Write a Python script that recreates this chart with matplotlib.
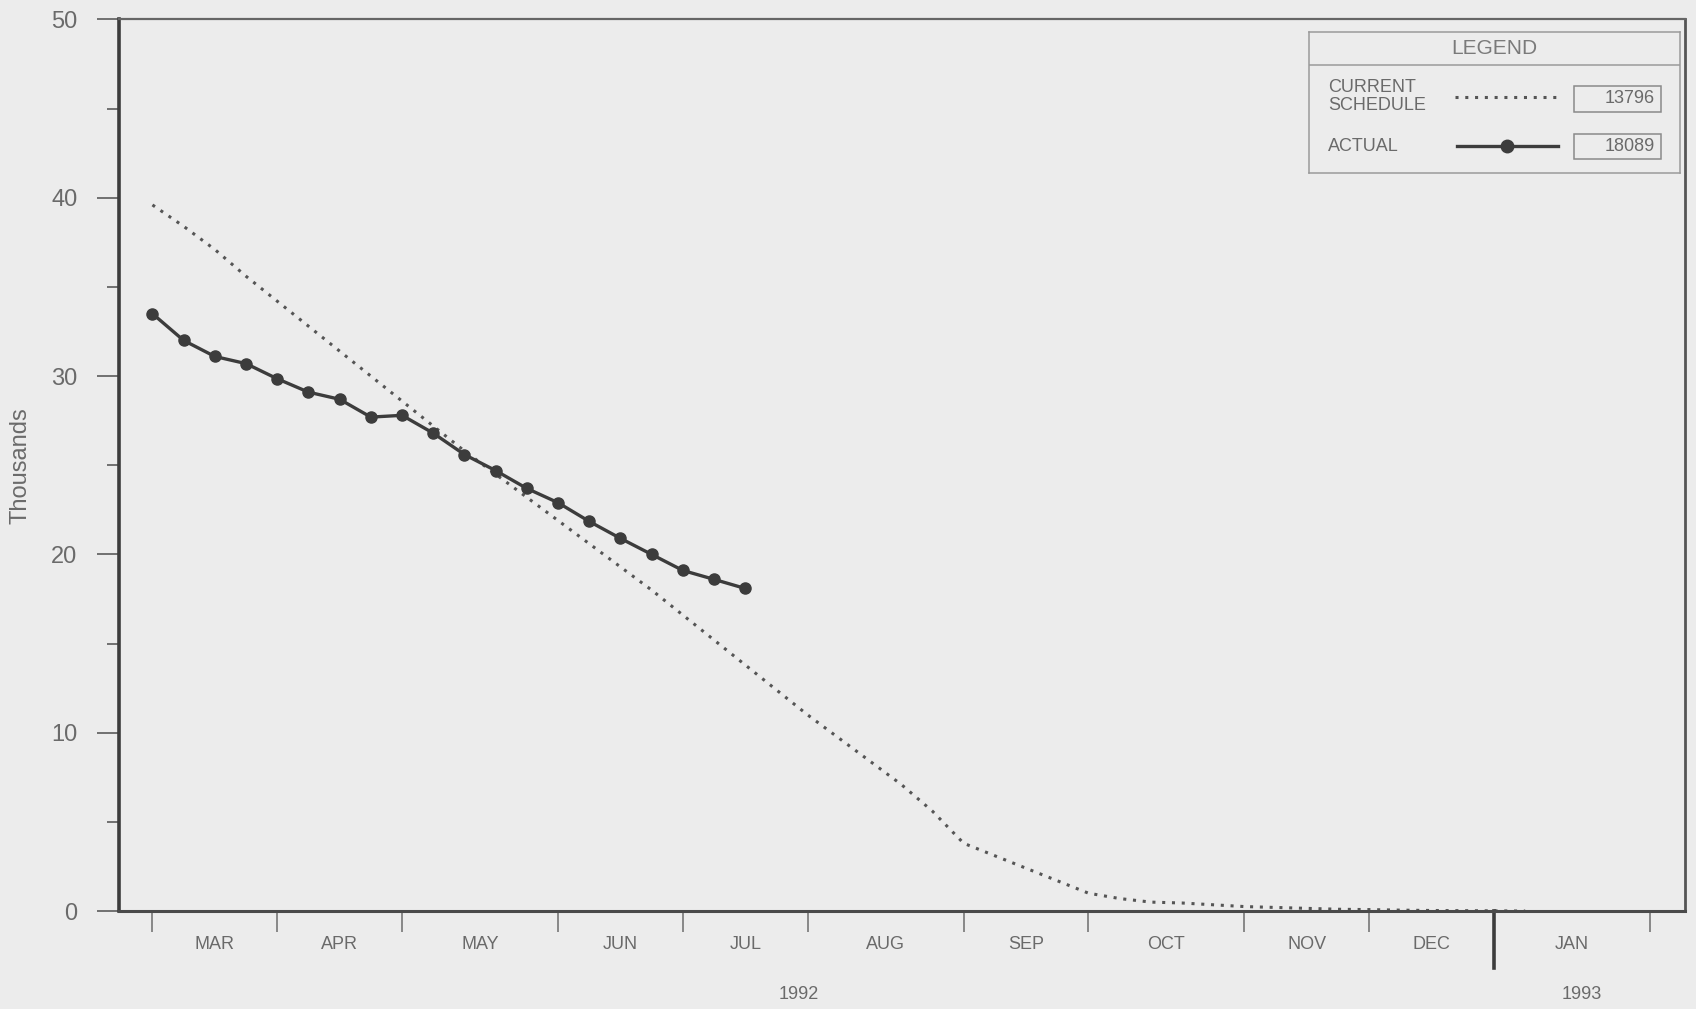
#!/usr/bin/env python3
"""
Weekly backlog burn-down (thousands): current schedule vs actual, Mar 1992 - Jan 1993.
x axis is in weeks from the first week of March; month widths are 4 or 5 weeks.
"""
import numpy as np
import matplotlib
matplotlib.use("Agg")
import matplotlib.pyplot as plt
from matplotlib.transforms import blended_transform_factory

# --- data ---
months = ["MAR", "APR", "MAY", "JUN", "JUL", "AUG", "SEP", "OCT", "NOV", "DEC", "JAN"]
month_weeks = [4, 4, 5, 4, 4, 5, 4, 5, 4, 4, 5]
years = ["1992", "1993"]
year_pos = [20.7, 45.8]          # weeks, where the year captions sit

actual = [33.5, 32.0, 31.1, 30.7, 29.85, 29.1, 28.7, 27.7, 27.8, 26.8,
          25.6, 24.7, 23.7, 22.9, 21.85, 20.9, 20.0, 19.1, 18.6, 18.09]
schedule = [39.6, 38.4, 37.1, 35.6, 34.2, 32.8, 31.4, 30.0, 28.6, 27.2,
            25.8, 24.5, 23.2, 21.9, 20.6, 19.3, 18.0, 16.6, 15.2, 13.8,
            12.4, 11.0, 9.7, 8.4, 7.1, 5.6, 3.8, 3.1, 2.4, 1.7,
            1.0, 0.7, 0.5, 0.45, 0.35, 0.25, 0.2, 0.15, 0.1, 0.08,
            0.05, 0.03, 0.02, 0.01, 0.0]
legend_vals = ["13796", "18089"]

BG = "#ececec"
INK = "#3c3c3c"
TXT = "#6a6a6a"
FONT = "Liberation Sans"


def main():
    plt.rcParams["font.family"] = [FONT, "DejaVu Sans"]
    fig = plt.figure(figsize=(16.96, 10.09), dpi=100, facecolor=BG)
    ax = fig.add_axes([0.0702, 0.0971, 0.9233, 0.8836], facecolor=BG)

    bounds = np.concatenate([[0], np.cumsum(month_weeks)])
    mids = (bounds[:-1] + bounds[1:]) / 2.0
    year_split = bounds[months.index("JAN")]

    ax.plot(np.arange(len(schedule)), schedule, color="#555555", lw=2.2,
            ls=(0, (1, 2.2)), zorder=2)
    ax.plot(np.arange(len(actual)), actual, color=INK, lw=2.4, marker="o",
            ms=8, mfc=INK, mec=INK, zorder=3)

    ax.set_xlim(-1.07, 49.12)
    ax.set_ylim(0, 50)

    # y axis
    ax.set_yticks(np.arange(0, 51, 10))
    ax.set_yticks(np.arange(5, 50, 10), minor=True)
    ax.tick_params(axis="y", which="major", direction="out", length=16, width=1.3,
                   color="#666666", pad=14, labelsize=17, labelcolor=TXT)
    ax.tick_params(axis="y", which="minor", direction="out", length=9, width=1.3,
                   color="#666666")
    ax.set_ylabel("Thousands", fontsize=17, color=TXT, labelpad=14)

    # x axis: month boundaries as ticks, month names centred between them
    major = [b for b in bounds if b != year_split]
    ax.set_xticks(major)
    ax.set_xticklabels([])
    ax.set_xticks(mids, minor=True)
    ax.set_xticklabels(months, minor=True)
    ax.tick_params(axis="x", which="major", direction="out", length=15, width=1.2,
                   color="#777777")
    ax.tick_params(axis="x", which="minor", length=0, pad=18, labelsize=13,
                   labelcolor=TXT)

    trans = blended_transform_factory(ax.transData, ax.transAxes)
    ax.plot([year_split, year_split], [0, -0.064], transform=trans,
            color=INK, lw=2.6, clip_on=False)
    for yr, xp in zip(years, year_pos):
        ax.text(xp, -0.094, yr, transform=trans, ha="center", va="center",
                fontsize=13, color=TXT)

    ax.spines["left"].set_color(INK)
    ax.spines["left"].set_linewidth(2.6)
    ax.spines["bottom"].set_color("#4a4a4a")
    ax.spines["bottom"].set_linewidth(2.2)
    ax.spines["top"].set_color("#666666")
    ax.spines["top"].set_linewidth(1.6)
    ax.spines["right"].set_color("#555555")
    ax.spines["right"].set_linewidth(2.0)

    # --- hand-built legend panel ---
    lg = fig.add_axes([0.7718, 0.8285, 0.2188, 0.1394], facecolor=BG)
    lg.set_xlim(0, 1)
    lg.set_ylim(0, 1)
    lg.set_xticks([])
    lg.set_yticks([])
    for s in lg.spines.values():
        s.set_color("#9a9a9a")
        s.set_linewidth(1.1)
    lg.plot([0, 1], [0.77, 0.77], color="#9a9a9a", lw=1.1)
    lg.text(0.5, 0.885, "LEGEND", ha="center", va="center", fontsize=15, color="#7a7a7a")

    lg.text(0.052, 0.546, "CURRENT\nSCHEDULE", ha="left", va="center", fontsize=13,
            color=TXT, linespacing=1.1)
    lg.plot([0.394, 0.67], [0.538, 0.538], color="#555555", lw=2.2, ls=(0, (1, 2.2)))
    lg.text(0.052, 0.192, "ACTUAL", ha="left", va="center", fontsize=13, color=TXT)
    lg.plot([0.40, 0.67], [0.192, 0.192], color=INK, lw=2.4)
    lg.plot([0.534], [0.192], marker="o", ms=9, color=INK)

    for val, yc in zip(legend_vals, [0.527, 0.19]):
        lg.add_patch(plt.Rectangle((0.714, yc - 0.09), 0.234, 0.18, fill=False,
                                   ec="#8a8a8a", lw=1.1))
        lg.text(0.933, yc, val, ha="right", va="center", fontsize=13, color=TXT)

    fig.savefig("out.png", dpi=100, facecolor=BG)
    plt.close(fig)


if __name__ == "__main__":
    main()
